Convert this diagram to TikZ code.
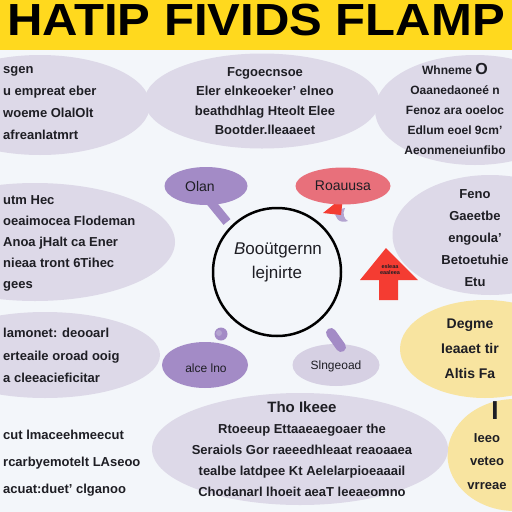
\documentclass[tikz,border=0pt]{standalone}
\usepackage{fontspec}
\setmainfont{Liberation Sans}
\usetikzlibrary{shapes.geometric}
\definecolor{bg}{HTML}{F3F6FA}
\definecolor{ttl}{HTML}{FFD91E}
\definecolor{lav}{HTML}{DDD9E8}
\definecolor{lavl}{HTML}{D6D0E3}
\definecolor{pur}{HTML}{A38BC6}
\definecolor{purl}{HTML}{B4A4D0}
\definecolor{rose}{HTML}{E8707B}
\definecolor{redar}{HTML}{F43C32}
\definecolor{yel}{HTML}{F8E4A0}
\definecolor{ink}{HTML}{1E1E24}
\begin{document}
\begin{tikzpicture}[x=1pt,y=-1pt,
  blob/.style={ellipse, draw=none, inner sep=0pt, fill=lav},
  txt/.style={font=\bfseries\fontsize{13}{#1}\selectfont, text=ink, inner sep=0pt},
  txt/.default=21.5,
  bubtxt/.style={font=\fontsize{14}{16}\selectfont, text=ink, inner sep=0pt}]
\useasboundingbox (0,0) rectangle (512,512);
\clip (0,0) rectangle (512,512);
\fill[bg] (0,0) rectangle (512,512);
\fill[ttl] (0,0) rectangle (512,50);
\node[anchor=base, font=\bfseries\fontsize{45}{45}\selectfont, inner sep=0pt] (title) at (256,35) {\scalebox{1.09}[1]{HATIP FIVIDS FLAMP}};

% big ellipses
\node[blob, minimum width=220pt, minimum height=100pt] (e1) at (40,105) {};
\node[blob, minimum width=235pt, minimum height=95pt] (e2) at (262,101) {};
\node[blob, minimum width=200pt, minimum height=110pt] (e3) at (475,110) {};
\node[blob, minimum width=280pt, minimum height=118pt] (e4) at (35,242) {};
\node[blob, minimum width=195pt, minimum height=120pt] (e5) at (490,235) {};
\node[blob, minimum width=230pt, minimum height=86pt] (e6) at (45,355) {};
\node[blob, fill=yel, minimum width=135pt, minimum height=112pt] (e9) at (515,455) {};
\node[blob, minimum width=296pt, minimum height=112pt] (e7) at (300,449) {};
\node[blob, fill=yel, minimum width=170pt, minimum height=98pt] (e8) at (485,349) {};

% texts
\node[txt=22, align=left, anchor=north west] (t1) at (3,66) {sgen\\u empreat eber\\woeme OlalOlt\\afreanlatmrt};
\node[txt=19.5, align=center, anchor=north] (t2) at (265,67) {Fcgoecnsoe\\Eler elnkeoeker' elneo\\beathdhlag Hteolt Elee\\Bootder.lleaaeet};
\node[txt=20, align=center, anchor=north, font=\bfseries\fontsize{12}{20}\selectfont] (t3) at (455,63) {Whneme {\fontsize{16}{16}\selectfont O}\\Oaanedaone\'e n\\Fenoz ara ooeloc\\Edlum eoel 9cm'\\Aeonmeneiunfibo};
\node[txt=21, align=left, anchor=north west] (t4) at (3,195) {utm Hec\\oeaimocea Flodeman\\Anoa jHalt ca Ener\\nieaa tront 6Tihec\\gees};
\node[txt=22, align=center, anchor=north] (t5) at (475,189) {Feno\\Gaeetbe\\engoula'\\Betoetuhie\\Etu};
\node[txt=22.5, align=left, anchor=north west] (t6) at (3,328) {lamonet: deooarl\\erteaile oroad ooig\\a cleeacieficitar};
\node[txt=27, align=left, anchor=north west] (t7) at (3,430) {cut lmaceehmeecut\\rcarbyemotelt LAseoo\\acuat:duet' clganoo};
\node[txt=21, align=center, anchor=north] (t8) at (302,401) {{\fontsize{15}{15}\selectfont Tho Ikeee}\\Rtoeeup Ettaaeaegoaer the\\Seraiols Gor raeeedhleaat reaoaaea\\tealbe latdpee Kt Aelelarpioeaaail\\Chodanarl lhoeit aeaT leeaeomno};
\node[txt=25, align=center, anchor=north, font=\bfseries\fontsize{14}{25}\selectfont] (t9) at (470,319) {Degme\\Ieaaet tir\\Altis Fa};
\node[txt=23.5, align=center, anchor=north] (t10) at (487,433) {Ieeo\\veteo\\vrreae};
\node[font=\bfseries\fontsize{26}{26}\selectfont, text=ink, inner sep=0pt] (t11) at (495,411) {I};

% centre circle
\node[circle, draw=black, line width=2.5pt, fill=bg, minimum size=128pt, inner sep=0pt] (hub) at (277,272) {};
\node[font=\fontsize{17}{17}\selectfont, text=ink, inner sep=0pt] (hubt1) at (278,250) {\textit{B}oo\"utgernn};
\node[font=\fontsize{17}{17}\selectfont, text=ink, inner sep=0pt] (hubt2) at (277,274) {lejnirte};

% bubble: Olan
\coordinate (olanTail) at (227,222);
\draw[pur, line width=9pt] (209,200) -- (olanTail);
\node[ellipse, fill=pur, minimum width=83pt, minimum height=38pt, inner sep=0pt] (olan) at (206,186) {};
\node[bubtxt] (olant) at (200,186) {Olan};

% bubble: red
\coordinate (redTail) at (323,213);
\fill[purl] (336,210) .. controls (333,218) and (340,224) .. (348,221) .. controls (344,219) and (342,214) .. (345,208) -- cycle;
\fill[redar] (343,197) -- (redTail) -- (341,215) -- cycle;
\node[ellipse, fill=rose, minimum width=95pt, minimum height=37pt, inner sep=0pt] (red) at (343,186) {};
\node[bubtxt] (redt) at (343,186) {Roauusa};

% red up arrow
\fill[redar] (360,280) -- (386,248) -- (418,280) -- (398,280) -- (398,300) -- (379,300) -- (379,280) -- cycle;
\node[font=\bfseries\fontsize{5.5}{6}\selectfont, text=ink, inner sep=0pt, align=center] (arrt) at (390,270) {esleaa\\eaaleea};

% bubble: lower left
\node[ellipse, fill=pur, minimum width=86pt, minimum height=46pt, inner sep=0pt] (low1) at (205,365) {};
\node[circle, fill=pur, minimum size=13pt, inner sep=0pt] (knob) at (221,334) {};
\node[circle, fill=purl, minimum size=6pt, inner sep=0pt] (knobin) at (219,333) {};
\node[bubtxt, font=\fontsize{12}{14}\selectfont] (low1t) at (206,368) {alce lno};

% bubble: lower right
\node[ellipse, fill=lavl, minimum width=87pt, minimum height=42pt, inner sep=0pt] (low2) at (336,365) {};
\coordinate (low2Top) at (331,333);
\draw[pur, line width=10pt, line cap=round] (low2Top) -- (341,347);
\node[bubtxt, font=\fontsize{12}{14}\selectfont] (low2t) at (336,366) {Slngeoad};
\end{tikzpicture}
\end{document}
